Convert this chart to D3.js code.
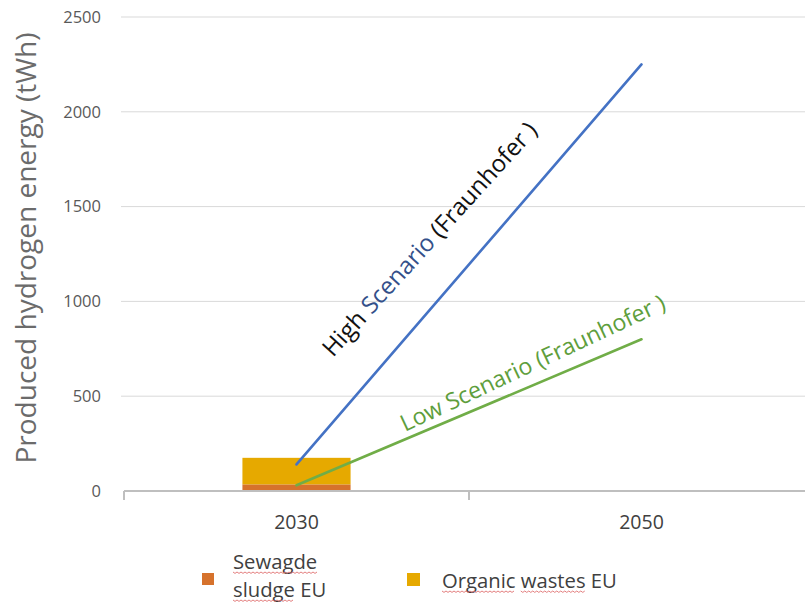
<!DOCTYPE html>
<html>
<head>
<meta charset="utf-8">
<script src="https://cdn.jsdelivr.net/npm/d3@7"></script>
<style>
  html, body { margin: 0; padding: 0; background: #fff; }
  svg { display: block; font-family: "Open Sans", "Noto Sans", sans-serif; }
</style>
</head>
<body>
<svg id="chart" width="805" height="603"></svg>
<script>
// Hydrogen from waste streams (2030) vs Fraunhofer scenarios (2030 → 2050), tWh
const years = ["2030", "2050"];
const sewageSludge = [35, 0];
const organicWastes = [140, 0];
const highScenario = [140, 2250];
const lowScenario = [30, 800];
const yTicks = [0, 500, 1000, 1500, 2000, 2500];

const colors = {
  sewage: "#D6722C",
  organic: "#E6A900",
  high: "#4472C4",
  low: "#70AD47",
  grid: "#D9D9D9",
  axis: "#BFBFBF"
};

const svg = d3.select("#chart");

const plot = { left: 124, right: 814, top: 17, bottom: 491 };

const x = d3.scaleBand()
  .domain(years)
  .range([plot.left, plot.right])
  .paddingInner(0)
  .paddingOuter(0);

const y = d3.scaleLinear()
  .domain([0, 2500])
  .range([plot.bottom, plot.top]);

// scale a text's font size so that it spans a given length
function fitWidth(sel, target) {
  const node = sel.node();
  const fs = parseFloat(sel.attr("font-size"));
  const w = node.getComputedTextLength();
  sel.attr("font-size", (fs * target / w).toFixed(2));
  return sel;
}

// horizontal gridlines
svg.append("g")
  .selectAll("line")
  .data(yTicks.filter(d => d > 0))
  .join("line")
  .attr("x1", plot.left - 3)
  .attr("x2", plot.right)
  .attr("y1", d => y(d))
  .attr("y2", d => y(d))
  .attr("stroke", colors.grid)
  .attr("stroke-width", 1);

// y axis tick labels
const yAxis = d3.axisLeft(y).tickValues(yTicks).tickFormat(d3.format("d")).tickSize(0).tickPadding(0);
const gy = svg.append("g")
  .attr("transform", `translate(101,0)`)
  .call(yAxis);
gy.select(".domain").remove();
gy.selectAll("text")
  .attr("font-family", "'Open Sans', sans-serif")
  .attr("font-size", 16.5)
  .attr("fill", "#595959");

// stacked bars
const barW = x.bandwidth() / 3.19;
const stack = years.map((yr, i) => ({
  year: yr,
  parts: [
    { key: "sewage", y0: 0, y1: sewageSludge[i] },
    { key: "organic", y0: sewageSludge[i], y1: sewageSludge[i] + organicWastes[i] }
  ]
}));
svg.append("g")
  .selectAll("g")
  .data(stack)
  .join("g")
  .selectAll("rect")
  .data(d => d.parts.filter(p => p.y1 > p.y0).map(p => ({ ...p, year: d.year })))
  .join("rect")
  .attr("x", d => x(d.year) + x.bandwidth() / 2 - barW / 2)
  .attr("width", barW)
  .attr("y", d => y(d.y1))
  .attr("height", d => y(d.y0) - y(d.y1))
  .attr("fill", d => colors[d.key]);

// x axis
const xAxis = d3.axisBottom(x).tickSize(0).tickPadding(0);
const gx = svg.append("g")
  .attr("transform", `translate(0,${plot.bottom})`)
  .call(xAxis);
gx.select(".domain").remove();
gx.append("line")
  .attr("x1", plot.left).attr("x2", plot.right)
  .attr("y1", 0).attr("y2", 0)
  .attr("stroke", colors.axis).attr("stroke-width", 2);
// category boundary ticks
gx.selectAll(".bound")
  .data(years.map(d => x(d)))
  .join("line")
  .attr("class", "bound")
  .attr("x1", d => d).attr("x2", d => d)
  .attr("y1", 0).attr("y2", 9)
  .attr("stroke", colors.axis).attr("stroke-width", 2);
gx.selectAll(".tick text")
  .attr("font-family", "'Open Sans', sans-serif")
  .attr("font-size", 19.5)
  .attr("fill", "#404040")
  .attr("dy", 0)
  .attr("y", 38);

// scenario lines between category centres
const cx = d => x(d) + x.bandwidth() / 2;
const line = d3.line().x(d => cx(d.year)).y(d => y(d.v));
[[highScenario, colors.high], [lowScenario, colors.low]].forEach(([vals, col]) => {
  svg.append("path")
    .datum(years.map((yr, i) => ({ year: yr, v: vals[i] })))
    .attr("d", line)
    .attr("fill", "none")
    .attr("stroke", col)
    .attr("stroke-width", 2.6)
    .attr("stroke-linecap", "round");
});

// scenario labels
const hi = svg.append("text")
  .attr("transform", "translate(333,358) rotate(-47.8)")
  .attr("font-size", 20);
hi.append("tspan").attr("fill", "#111").text("High ");
hi.append("tspan").attr("fill", "#34508A").text("Scenario");
hi.append("tspan").attr("fill", "#111").text(" (Fraunhofer )");
fitWidth(hi, 306);

const lo = svg.append("text")
  .attr("transform", "translate(405,432) rotate(-25.2)")
  .attr("font-size", 20)
  .attr("fill", "#5E9E3C")
  .text("Low Scenario (Fraunhofer )");
fitWidth(lo, 290);

// y axis title
const yt = svg.append("text")
  .attr("transform", "translate(36,248) rotate(-90)")
  .attr("text-anchor", "middle")
  .attr("font-size", 22)
  .attr("fill", "#6B6B6B")
  .text("Produced hydrogen energy (tWh)");
fitWidth(yt, 431);

// legend
const legend = svg.append("g");
legend.append("rect")
  .attr("x", 202).attr("y", 573).attr("width", 12).attr("height", 12)
  .attr("fill", colors.sewage);
legend.append("rect")
  .attr("x", 407).attr("y", 573).attr("width", 13).attr("height", 13)
  .attr("fill", colors.organic);

const lgOrg = legend.append("text")
  .attr("x", 442).attr("y", 588)
  .attr("font-size", 19)
  .attr("fill", "#404040")
  .text("Organic wastes EU");
fitWidth(lgOrg, 175);
const lgFs = lgOrg.attr("font-size");

const lgS1 = legend.append("text")
  .attr("x", 233).attr("y", 569)
  .attr("font-size", lgFs)
  .attr("fill", "#404040")
  .text("Sewagde");
const lgS2 = legend.append("text")
  .attr("x", 233).attr("y", 597)
  .attr("font-size", lgFs)
  .attr("fill", "#404040")
  .text("sludge EU");

// spell-check squiggles under the legend words
function squiggle(textSel, start, len) {
  const node = textSel.node();
  const x0 = +textSel.attr("x") + (start > 0 ? node.getSubStringLength(0, start) : 0);
  const w = node.getSubStringLength(start, len);
  const yb = +textSel.attr("y") + 3;
  const pts = [];
  for (let px = 0; px <= w; px += 2) pts.push([x0 + px, yb + ((px / 2) % 2 === 0 ? 0 : 1.4)]);
  legend.append("path")
    .attr("d", d3.line()(pts))
    .attr("fill", "none")
    .attr("stroke", "#E07070")
    .attr("stroke-width", 0.9);
}
squiggle(lgS1, 0, 7);
squiggle(lgS2, 0, 6);
squiggle(lgOrg, 0, 7);
squiggle(lgOrg, 8, 6);
</script>
</body>
</html>
